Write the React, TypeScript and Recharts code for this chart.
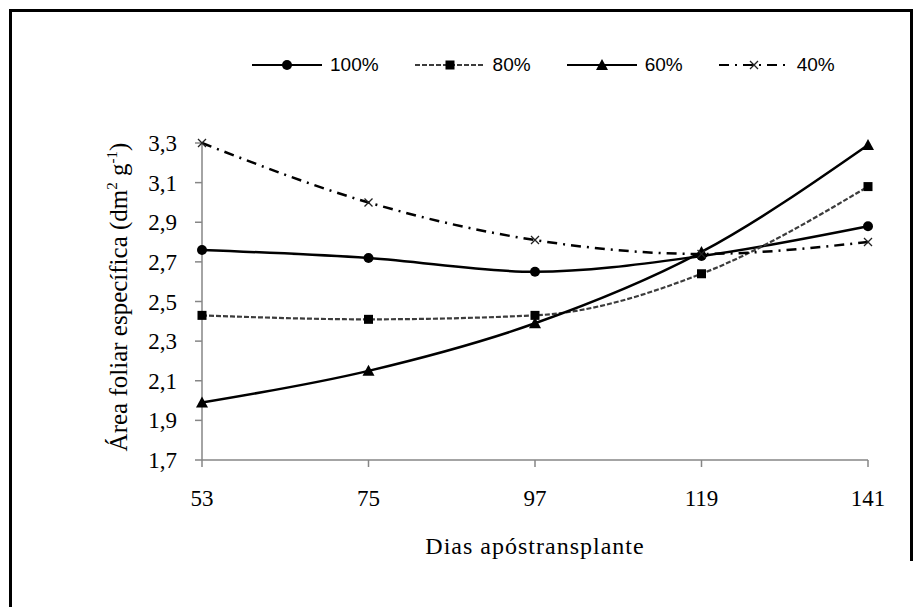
import { Label, Line, LineChart, XAxis, YAxis } from "recharts";

// days after transplanting
const days = [53, 75, 97, 119, 141];

// specific leaf area (dm² g⁻¹) per irrigation level
const sla100 = [2.76, 2.72, 2.65, 2.73, 2.88];
const sla80 = [2.43, 2.41, 2.43, 2.64, 3.08];
const sla60 = [1.99, 2.15, 2.39, 2.75, 3.29];
const sla40 = [3.3, 3.0, 2.81, 2.74, 2.8];

const yTicks = [1.7, 1.9, 2.1, 2.3, 2.5, 2.7, 2.9, 3.1, 3.3];

const seriesList = [
  { key: "s100", name: "100%", values: sla100, stroke: "#000", dash: undefined, marker: "circle" },
  { key: "s80", name: "80%", values: sla80, stroke: "#3c3c3c", dash: "5 2", marker: "square" },
  { key: "s60", name: "60%", values: sla60, stroke: "#000", dash: undefined, marker: "triangle" },
  { key: "s40", name: "40%", values: sla40, stroke: "#000", dash: "10 6 2 6", marker: "cross" },
];

const data = days.map((d, i) => {
  const row: Record<string, number> = { day: d };
  seriesList.forEach((s) => {
    row[s.key] = s.values[i];
  });
  return row;
});

const serif = "Liberation Serif";
const sans = "Liberation Sans";

function Marker({ kind, cx, cy }: { kind: string; cx: number; cy: number }) {
  if (kind === "circle") return <circle cx={cx} cy={cy} r={5} fill="#000" />;
  if (kind === "square") return <rect x={cx - 4.5} y={cy - 4.5} width={9} height={9} fill="#000" />;
  if (kind === "triangle")
    return <path d={`M${cx},${cy - 6} L${cx + 6},${cy + 5} L${cx - 6},${cy + 5} Z`} fill="#000" />;
  return (
    <path
      d={`M${cx - 4},${cy - 4} L${cx + 4},${cy + 4} M${cx - 4},${cy + 4} L${cx + 4},${cy - 4}`}
      stroke="#222"
      strokeWidth={1.3}
      fill="none"
    />
  );
}

function dotFor(kind: string) {
  return (props: any) => {
    const { cx, cy, index } = props;
    if (cx == null || cy == null) return <g key={index} />;
    return (
      <g key={index}>
        <Marker kind={kind} cx={cx} cy={cy} />
      </g>
    );
  };
}

function ChartLegend() {
  return (
    <div
      style={{
        position: "absolute",
        left: 252,
        top: 52,
        display: "flex",
        alignItems: "center",
        gap: 36,
        fontFamily: sans,
        fontSize: 19,
        color: "#000",
      }}
    >
      {seriesList.map((s) => (
        <div key={s.key} style={{ display: "flex", alignItems: "center", gap: 8 }}>
          <svg width={70} height={26}>
            <line
              x1={0}
              x2={70}
              y1={13}
              y2={13}
              stroke={s.stroke}
              strokeWidth={2}
              strokeDasharray={s.dash}
            />
            <Marker kind={s.marker} cx={35} cy={13} />
          </svg>
          <span>{s.name}</span>
        </div>
      ))}
    </div>
  );
}

function YTitle() {
  return (
    <text
      x={127}
      y={297}
      transform="rotate(-90 127 297)"
      textAnchor="middle"
      fontFamily={serif}
      fontSize={25}
      fill="#000"
    >
      Área foliar específica (dm
      <tspan fontSize={15} dy={-10}>2</tspan>
      <tspan dy={10}> g</tspan>
      <tspan fontSize={15} dy={-10}>-1</tspan>
      <tspan dy={10}>)</tspan>
    </text>
  );
}

function XTitle(props: any) {
  const { x, y, width, height } = props.viewBox;
  return (
    <text
      x={x + width / 2}
      y={y + height - 6}
      textAnchor="middle"
      fontFamily={serif}
      fontSize={24}
      letterSpacing={1}
      fill="#000"
    >
      Dias apóstransplante
    </text>
  );
}

function XTick(props: any) {
  const { x, y, payload } = props;
  return (
    <text x={x} y={y + 35} textAnchor="middle" fontFamily={serif} fontSize={23} fill="#000">
      {payload.value}
    </text>
  );
}

function YTick(props: any) {
  const { x, y, payload } = props;
  return (
    <text x={x} y={y + 8} textAnchor="end" fontFamily={serif} fontSize={23} fill="#000">
      {payload.value.toFixed(1).replace(".", ",")}
    </text>
  );
}

export default function App() {
  return (
    <div
      style={{
        position: "absolute",
        left: 0,
        top: 0,
        width: 914,
        height: 607,
        background: "#fff",
      }}
    >
      <div
        style={{
          position: "absolute",
          left: 9,
          top: 9,
          width: 898,
          height: 549,
          borderTop: "3px solid #000",
          borderLeft: "3px solid #000",
          borderRight: "3px solid #000",
        }}
      />
      <div
        style={{ position: "absolute", left: 9, top: 558, width: 0, height: 49, borderLeft: "3px solid #000" }}
      />
      <ChartLegend />
      <LineChart
        width={914}
        height={607}
        data={data}
        margin={{ top: 143, right: 46, bottom: 47, left: 0 }}
        style={{ position: "absolute", left: 0, top: 0 }}
      >
        <XAxis
          dataKey="day"
          type="number"
          domain={[53, 141]}
          ticks={days}
          height={100}
          axisLine={{ stroke: "#868686", strokeWidth: 1.5 }}
          tickLine={{ stroke: "#868686", strokeWidth: 1.5 }}
          tickSize={7}
          tickMargin={4}
          tick={<XTick />}
        >
          <Label content={<XTitle />} />
        </XAxis>
        <YAxis
          type="number"
          domain={[1.7, 3.3]}
          ticks={yTicks}
          width={202}
          axisLine={{ stroke: "#868686", strokeWidth: 1.5 }}
          tickLine={{ stroke: "#868686", strokeWidth: 1.5 }}
          tickSize={7}
          tickMargin={18}
          tick={<YTick />}
        >
          <Label content={() => <YTitle />} />
        </YAxis>
        {seriesList.map((s) => (
          <Line
            key={s.key}
            dataKey={s.key}
            name={s.name}
            type="monotone"
            stroke={s.stroke}
            strokeWidth={s.marker === "square" ? 2.2 : 2.5}
            strokeDasharray={s.dash}
            dot={dotFor(s.marker)}
            activeDot={false}
            isAnimationActive={false}
          />
        ))}
      </LineChart>
    </div>
  );
}
